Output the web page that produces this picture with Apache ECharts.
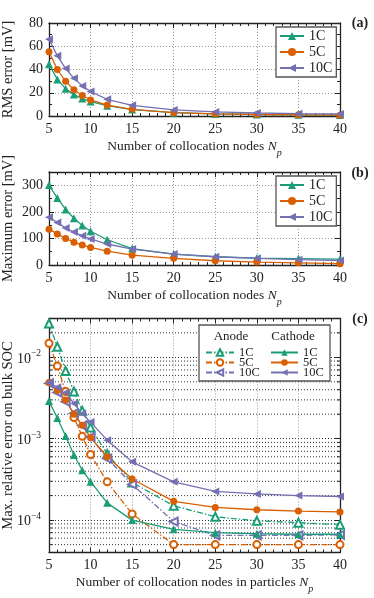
<!DOCTYPE html>
<html>
<head>
<meta charset="utf-8">
<title>Collocation nodes error</title>
<script src="https://cdn.jsdelivr.net/npm/echarts@6/dist/echarts.min.js"></script>
<style>
  html, body { margin: 0; padding: 0; background: #fff; }
  #chart { width: 374px; height: 598px; }
</style>
</head>
<body>
<div id="chart"></div>
<script>
// number of collocation nodes (x values, shared by every panel)
const nodes = [5, 6, 7, 8, 9, 10, 12, 15, 20, 25, 30, 35, 40]

// (a) RMS error [mV]
const rms1C = [44.5, 31.5, 23.5, 18.4, 15, 12.4, 8.9, 5.5, 2.9, 1.8, 1.3, 1.0, 0.8]
const rms5C = [55.3, 40, 29.8, 22.6, 17.6, 13.8, 9.4, 5.7, 2.9, 1.8, 1.3, 1.0, 0.7]
const rms10C = [66, 51.8, 40.8, 32.4, 25.9, 21, 14.4, 9.2, 5.2, 3.5, 2.6, 2.0, 1.7]

// (b) maximum error [mV]
const max1C = [301, 252, 209, 176, 149, 127, 95, 62, 41, 31, 26, 24, 22]
const max5C = [135, 117, 100, 86, 75, 66, 52, 37, 25, 16, 11, 8, 5]
const max10C = [180, 160, 139, 124, 110, 98, 79, 60, 41, 31, 25, 20, 17]

// (c) max. relative error on bulk SOC
const anode1C = [2.6e-2, 1.35e-2, 6.8e-3, 3.8e-3, 2.2e-3, 1.37e-3, 6.5e-4, 2.9e-4, 1.5e-4, 1.1e-4, 9.8e-5, 9.3e-5, 8.8e-5]
const anode5C = [1.49e-2, 7.8e-3, 3.8e-3, 1.82e-3, 1.07e-3, 6.4e-4, 2.95e-4, 1.19e-4, 5e-5, 5e-5, 5e-5, 5e-5, 5e-5]
const anode10C = [4.8e-3, 3.7e-3, 2.85e-3, 2.05e-3, 1.45e-3, 1.05e-3, 5.7e-4, 2.75e-4, 9.6e-5, 6.5e-5, 6.5e-5, 6.5e-5, 6.6e-5]
const cathode1C = [2.9e-3, 1.8e-3, 1.08e-3, 6.3e-4, 4.1e-4, 2.97e-4, 1.63e-4, 1.0e-4, 7.7e-5, 7.0e-5, 6.8e-5, 6.7e-5, 6.7e-5]
const cathode5C = [4.9e-3, 3.9e-3, 3.0e-3, 2.0e-3, 1.46e-3, 1.03e-3, 6.0e-4, 3.2e-4, 1.7e-4, 1.43e-4, 1.34e-4, 1.29e-4, 1.26e-4]
const cathode10C = [4.9e-3, 4.3e-3, 3.7e-3, 2.7e-3, 2.04e-3, 1.6e-3, 9.6e-4, 5.2e-4, 2.95e-4, 2.25e-4, 2.1e-4, 2.0e-4, 1.95e-4]

// minor log ticks of panel (c): 2..9 of each decade inside the axis range
const logMin = 4e-5
const logMax = 3e-2
const logMinor = []
;[1e-5, 1e-4, 1e-3, 1e-2].forEach(d => {
  for (let m = 2; m <= 9; m++) {
    const v = m * d
    if (v > logMin * 1.001 && v < logMax * 0.999) logMinor.push(v)
  }
})

const FONT = 'Liberation Serif'
const INK = '#222'
const GREEN = '#1b9e77'
const ORANGE = '#d95f02'
const PURPLE = '#7570b3'
const DASHDOT = [6, 2, 1.5, 2]

const chart = echarts.init(document.getElementById('chart'))

function pairs (ys) {
  return nodes.map((x, i) => [x, ys[i]])
}

function lineSeries (name, ys, gi, color, symbol, dashed) {
  const rotate = symbol.indexOf('left') === 0 ? 90 : 0
  let sym = symbol.replace('left', '')
  if (sym === '') sym = 'triangle'
  const isCircle = sym.indexOf('ircle') > 0 || sym === 'circle'
  return {
    name: name,
    type: 'line',
    xAxisIndex: gi,
    yAxisIndex: gi,
    data: pairs(ys),
    symbol: sym,
    symbolSize: isCircle ? 7 : 8,
    symbolRotate: rotate,
    showAllSymbol: true,
    color: color,
    itemStyle: { color: color, borderColor: color, borderWidth: dashed ? 1.2 : 0 },
    lineStyle: { color: color, width: 1.3, type: dashed ? DASHDOT : 'solid' },
    z: 3
  }
}

const xNameA = '{t|Number of collocation nodes }{i|N}{s|p}'
const xNameC = '{t|Number of collocation nodes in particles }{i|N}{s|p}'
const nameRich = {
  t: { fontFamily: FONT, fontSize: 13.5, color: INK, verticalAlign: 'top', lineHeight: 16 },
  i: { fontFamily: FONT, fontSize: 13.5, fontStyle: 'italic', color: INK, verticalAlign: 'top', lineHeight: 16 },
  s: { fontFamily: FONT, fontSize: 10, fontStyle: 'italic', color: INK, verticalAlign: 'top', padding: [9, 0, 0, 0], lineHeight: 16 }
}

function xAxis (gi, top, name) {
  return {
    type: 'value',
    gridIndex: gi,
    position: top ? 'top' : 'bottom',
    min: 5,
    max: 40,
    interval: 5,
    axisLine: { show: true, onZero: false, lineStyle: { color: INK, width: 1.3 } },
    axisTick: { show: true, inside: true, length: 5, lineStyle: { color: INK, width: 1 } },
    minorTick: { show: true, splitNumber: 5, length: 3, lineStyle: { color: INK, width: 1 } },
    axisLabel: { show: !top, margin: 6, fontFamily: FONT, fontSize: 14, color: INK },
    splitLine: { show: !top, lineStyle: { type: [1, 2], color: '#999', width: 1 } },
    name: top ? '' : name,
    nameLocation: 'middle',
    nameGap: 23,
    nameMoveOverlap: false,
    nameTextStyle: { rich: nameRich }
  }
}

function yAxis (gi, right, cfg) {
  const ax = {
    type: cfg.type || 'value',
    gridIndex: gi,
    position: right ? 'right' : 'left',
    min: cfg.min,
    max: cfg.max,
    axisLine: { show: true, onZero: false, lineStyle: { color: INK, width: 1.3 } },
    axisTick: { show: true, inside: true, length: 5, lineStyle: { color: INK, width: 1 } },
    axisLabel: {
      show: !right,
      margin: cfg.margin || 6,
      fontFamily: FONT,
      fontSize: 14,
      color: INK
    },
    splitLine: { show: !right, lineStyle: { type: [1, 2], color: cfg.gridColor || '#999', width: 1 } },
    name: right ? '' : cfg.name,
    nameLocation: 'middle',
    nameGap: 33,
    nameMoveOverlap: false,
    nameTextStyle: { fontFamily: FONT, fontSize: 14.5, color: INK }
  }
  if (cfg.type === 'log') {
    ax.logBase = 10
    ax.axisLabel.formatter = v => {
      const e = Math.log10(v)
      if (Math.abs(e - Math.round(e)) > 0.01) return ''
      return '{b|10}{sup|\u2212' + Math.abs(Math.round(e)) + '}'
    }
    ax.axisLabel.rich = {
      b: { fontFamily: FONT, fontSize: 14, color: INK, verticalAlign: 'bottom' },
      sup: { fontFamily: FONT, fontSize: 9.5, color: INK, verticalAlign: 'bottom', padding: [0, 0, 7, 0] }
    }
  } else {
    ax.interval = cfg.interval
    ax.minorTick = { show: true, splitNumber: 2, length: 3, lineStyle: { color: INK, width: 1 } }
    ax.axisLabel.formatter = v => (v > cfg.labelMax ? '' : String(v))
  }
  return ax
}

const yA = { min: 0, max: 80, interval: 20, labelMax: 80, name: 'RMS error [mV]' }
const yB = { min: 0, max: 350, interval: 100, labelMax: 300, name: 'Maximum error [mV]' }
const yC = { type: 'log', min: logMin, max: logMax, margin: 8, gridColor: '#333', name: 'Max. relative error on bulk SOC' }

const legendText = { fontFamily: FONT, fontSize: 14, color: INK, lineHeight: 16 }
const legendSmall = { fontFamily: FONT, fontSize: 12.5, color: INK, lineHeight: 10, width: 21, align: 'right' }
const strip = name => name.split('|')[1]

const gridBase = { left: 49, right: 34, containLabel: false, outerBoundsMode: 'none' }

const option = {
  animation: false,
  backgroundColor: '#fff',
  grid: [
    Object.assign({ top: 23, height: 93 }, gridBase),
    Object.assign({ top: 172, height: 93 }, gridBase),
    Object.assign({ top: 318.5, height: 234 }, gridBase)
  ],
  xAxis: [
    xAxis(0, false, xNameA), xAxis(1, false, xNameA), xAxis(2, false, xNameC),
    xAxis(0, true), xAxis(1, true), xAxis(2, true)
  ],
  yAxis: [
    yAxis(0, false, yA), yAxis(1, false, yB), yAxis(2, false, yC),
    yAxis(0, true, yA), yAxis(1, true, yB), yAxis(2, true, yC)
  ],
  legend: [
    {
      data: ['a|1C', 'a|5C', 'a|10C'],
      orient: 'vertical', left: 276, top: 27,
      padding: [1, 4, 1, 3], itemGap: 0, itemWidth: 24, itemHeight: 10,
      borderColor: '#555', borderWidth: 1.3, backgroundColor: '#fff',
      selectedMode: false, formatter: strip, textStyle: legendText, z: 6
    },
    {
      data: ['b|1C', 'b|5C', 'b|10C'],
      orient: 'vertical', left: 276, top: 176,
      padding: [1, 4, 1, 3], itemGap: 0, itemWidth: 24, itemHeight: 10,
      borderColor: '#555', borderWidth: 1.3, backgroundColor: '#fff',
      selectedMode: false, formatter: strip, textStyle: legendText, z: 6
    },
    {
      data: ['an|1C', 'an|5C', 'an|10C'],
      orient: 'vertical', left: 205, top: 346,
      padding: 0, itemGap: -3, itemWidth: 28, itemHeight: 8,
      selectedMode: false, formatter: strip, textStyle: legendSmall, z: 7
    },
    {
      data: ['ca|1C', 'ca|5C', 'ca|10C'],
      orient: 'vertical', left: 270, top: 346,
      padding: 0, itemGap: -3, itemWidth: 27, itemHeight: 8,
      selectedMode: false, formatter: strip, textStyle: legendSmall, z: 7
    }
  ],
  graphic: [
    { type: 'rect', z: 5, shape: { x: 199, y: 325, width: 131, height: 56 }, style: { fill: '#fff', stroke: '#555', lineWidth: 1.3 } },
    { type: 'text', z: 8, x: 231, y: 337, style: { text: 'Anode', font: '13px "Liberation Serif"', fill: INK, align: 'center', verticalAlign: 'middle' } },
    { type: 'text', z: 8, x: 293, y: 337, style: { text: 'Cathode', font: '13px "Liberation Serif"', fill: INK, align: 'center', verticalAlign: 'middle' } },
    { type: 'text', z: 8, x: 360, y: 23, style: { text: '(a)', font: 'bold 14px "Liberation Serif"', fill: INK, align: 'center', verticalAlign: 'middle' } },
    { type: 'text', z: 8, x: 360, y: 173, style: { text: '(b)', font: 'bold 14px "Liberation Serif"', fill: INK, align: 'center', verticalAlign: 'middle' } },
    { type: 'text', z: 8, x: 360, y: 319, style: { text: '(c)', font: 'bold 14px "Liberation Serif"', fill: INK, align: 'center', verticalAlign: 'middle' } }
  ],
  series: [
    lineSeries('a|1C', rms1C, 0, GREEN, 'triangle'),
    lineSeries('a|5C', rms5C, 0, ORANGE, 'circle'),
    lineSeries('a|10C', rms10C, 0, PURPLE, 'left'),
    lineSeries('b|1C', max1C, 1, GREEN, 'triangle'),
    lineSeries('b|5C', max5C, 1, ORANGE, 'circle'),
    lineSeries('b|10C', max10C, 1, PURPLE, 'left'),
    lineSeries('an|1C', anode1C, 2, GREEN, 'emptyTriangle', true),
    lineSeries('an|5C', anode5C, 2, ORANGE, 'emptyCircle', true),
    lineSeries('an|10C', anode10C, 2, PURPLE, 'leftemptyTriangle', true),
    lineSeries('ca|1C', cathode1C, 2, GREEN, 'triangle'),
    lineSeries('ca|5C', cathode5C, 2, ORANGE, 'circle'),
    lineSeries('ca|10C', cathode10C, 2, PURPLE, 'left'),
    {
      // minor log grid lines and ticks of panel (c)
      type: 'custom',
      xAxisIndex: 2,
      yAxisIndex: 2,
      silent: true,
      z: 1,
      data: logMinor.map(v => [5, v]),
      renderItem: (params, api) => {
        const v = api.value(1)
        const a = api.coord([5, v])
        const b = api.coord([40, v])
        return {
          type: 'group',
          children: [
            { type: 'line', shape: { x1: a[0], y1: a[1], x2: b[0], y2: b[1] }, style: { stroke: '#333', lineDash: [1, 2], lineWidth: 1 } },
            { type: 'line', shape: { x1: a[0], y1: a[1], x2: a[0] + 3, y2: a[1] }, style: { stroke: INK, lineWidth: 1 } },
            { type: 'line', shape: { x1: b[0] - 3, y1: b[1], x2: b[0], y2: b[1] }, style: { stroke: INK, lineWidth: 1 } }
          ]
        }
      }
    }
  ]
}

chart.setOption(option)
</script>
</body>
</html>
